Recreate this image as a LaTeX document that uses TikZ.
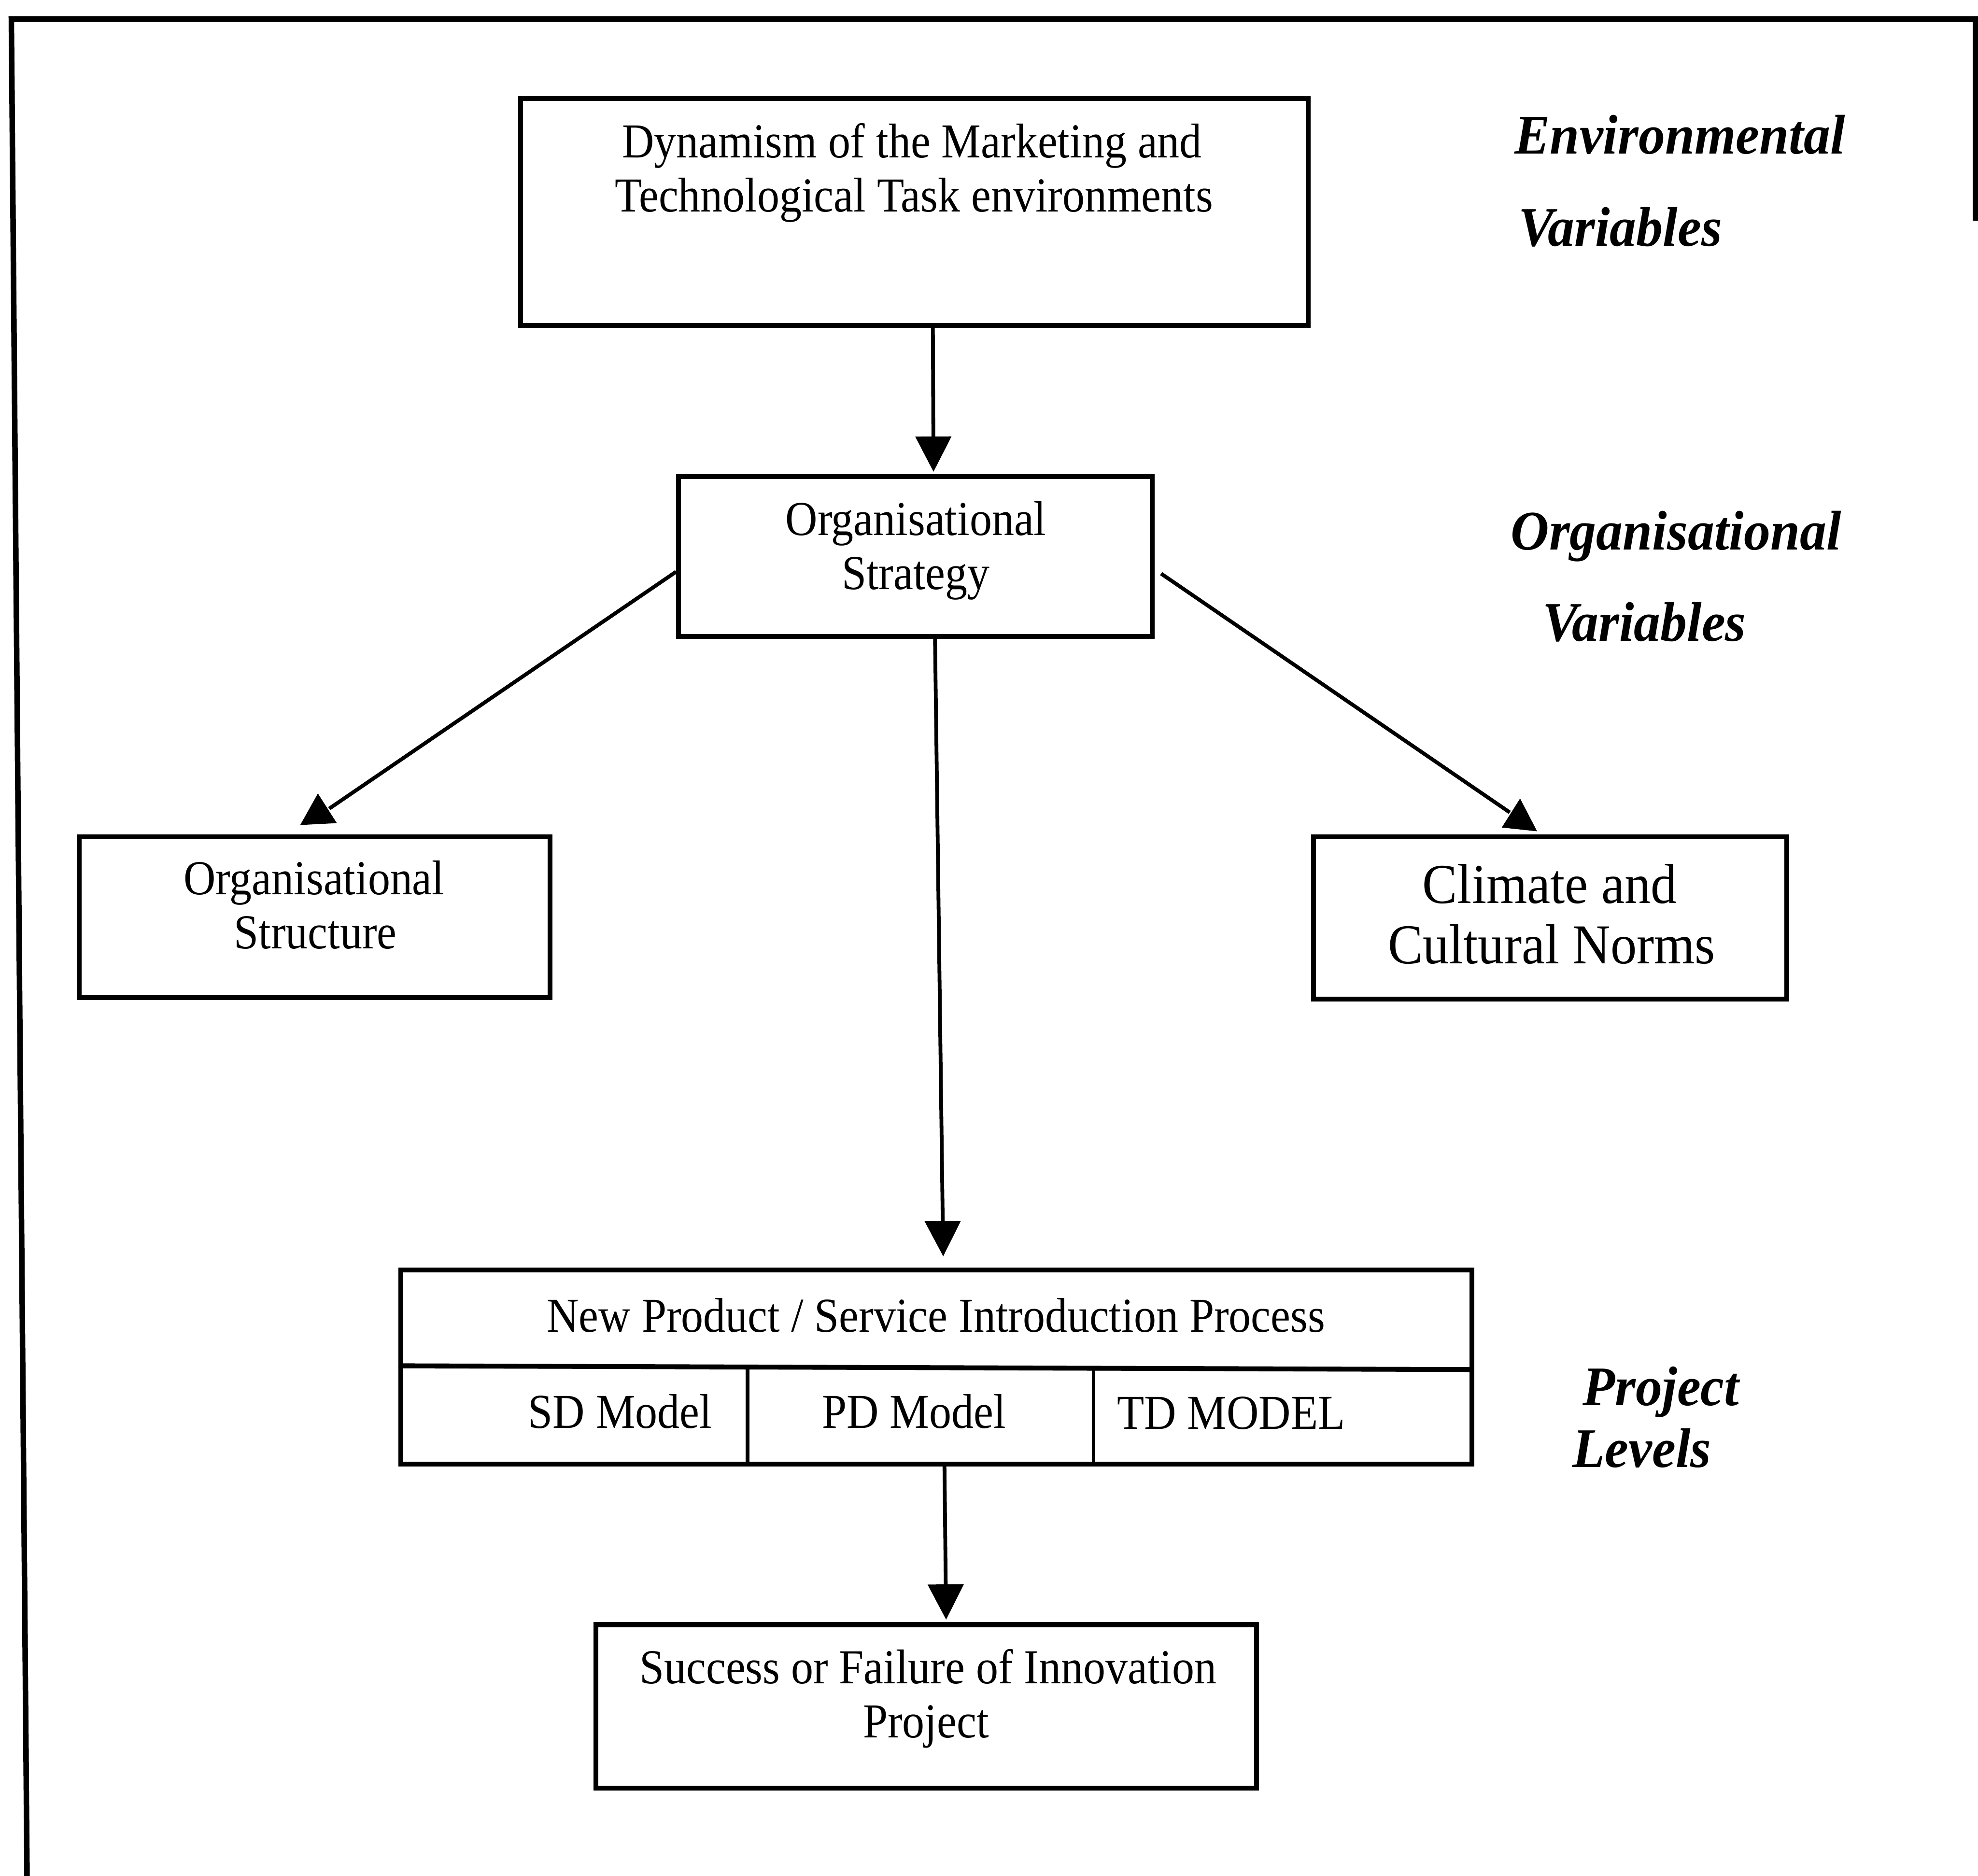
\documentclass[tikz,border=0pt]{standalone}
\usepackage{fontspec}
\setmainfont{Liberation Serif}[FakeStretch=0.91]
\newfontfamily\climfont{Liberation Serif}[FakeStretch=0.93]
\newfontfamily\labfont{Liberation Serif}[FakeStretch=0.95]
\usetikzlibrary{arrows.meta,calc}

\tikzset{
  box/.style={draw, line width=1.1pt, inner sep=0pt},
  conn/.style={line width=0.85pt},
  tip/.style={-{Triangle[length=0.28cm,width=0.28cm]}},
  txt/.style={anchor=base, inner sep=0pt, font=\fontsize{11}{12}\selectfont},
  bigtxt/.style={anchor=base, inner sep=0pt, font=\climfont\fontsize{12.7}{14}\selectfont},
  lab/.style={anchor=base west, inner sep=0pt, font=\labfont\bfseries\itshape\fontsize{12.6}{14}\selectfont},
  frame/.style={line width=1.25pt, line join=miter},
}

\begin{document}
\begin{tikzpicture}[x=0.01cm,y=-0.01cm]
\useasboundingbox (0,0) rectangle (1568,1487);

% page frame
\draw[frame] (21.5,1495) -- (9,15) -- (1566,15) -- (1566,175);

% boxes
\node[box, minimum width=6.24cm, minimum height=1.80cm] (env) at (725,168) {};
\node[box, minimum width=3.754cm, minimum height=1.265cm] (strat) at (725.7,441.25) {};
\node[box, minimum width=3.73cm, minimum height=1.275cm] (struct) at (249.5,727.25) {};
\node[box, minimum width=3.748cm, minimum height=1.285cm] (clim) at (1228.8,727.75) {};
\node[box, minimum width=8.484cm, minimum height=1.535cm] (npd) at (742.2,1083.75) {};
\node[box, minimum width=5.234cm, minimum height=1.295cm] (succ) at (734.3,1352.75) {};

% cells of the process box
\draw[line width=1.1pt] ($(npd.west)+(0,-1)$) -- ($(npd.east)+(0,2)$);
\draw[line width=0.85pt] ($(npd.south)+(-149.6,0)$) -- ($(npd.center)+(-149.6,0)$);
\draw[line width=0.85pt] ($(npd.south)+(124.7,0)$) -- ($(npd.center)+(124.7,0)$);

% box texts
\node[txt] (env1) at (723,125) {Dynamism of the Marketing and};
\node[txt] (env2) at (724.5,168) {Technological Task environments};
\node[txt] (strat1) at (726,424.5) {Organisational};
\node[txt] (strat2) at (726,467.3) {Strategy};
\node[txt] (struct1) at (249,709) {Organisational};
\node[txt] (struct2) at (250,752) {Structure};
\node[bigtxt] (clim1) at (1228.5,716) {Climate and};
\node[bigtxt] (clim2) at (1230,764) {Cultural Norms};
\node[txt] (npd1) at (742,1056) {New Product / Service Introduction Process};
\node[txt] (sd) at (491.5,1132) {SD Model};
\node[txt] (pd) at (724.5,1132) {PD Model};
\node[txt] (td) at (976,1133) {TD MODEL};
\node[txt] (succ1) at (735.7,1334.7) {Success or Failure of Innovation};
\node[txt] (succ2) at (734,1377.6) {Project};

% level labels
\node[lab] (l1) at (1200,122) {Environmental};
\node[lab] (l2) at (1203,195) {Variables};
\node[lab] (l3) at (1197,436) {Organisational};
\node[lab] (l4) at (1222,508) {Variables};
\node[lab] (l5) at (1254,1114) {Project};
\node[lab] (l6) at (1246,1163) {Levels};

% vertical connectors
\draw[conn,tip] ([xshift=0.145cm]env.south) -- ([xshift=0.143cm,yshift=0.02cm]strat.north);
\draw[conn,tip] ([xshift=0.155cm]strat.south) -- ([xshift=0.055cm,yshift=0.09cm]npd.north);
\draw[conn,tip] ([xshift=0.065cm]npd.south) -- ([xshift=0.157cm,yshift=0.02cm]succ.north);

% diagonal connectors with upright heads
\coordinate (lend) at ($(struct.north)+(11.5,-20.5)$);
\coordinate (rend) at ($(clim.north)+(-32,-17.5)$);
\draw[conn] ($(strat.west)+(0,12)$) -- (lend);
\draw[conn] ($(strat.east)+(5,13.5)$) -- (rend);
\fill ($(struct.north)+(2.5,-32.5)$) -- ($(struct.north)+(-11.5,-7.5)$) -- ($(struct.north)+(17.5,-9)$) -- cycle;
\fill ($(clim.north)+(-23.8,-28.5)$) -- ($(clim.north)+(-38.3,-5.5)$) -- ($(clim.north)+(-10.3,-2.5)$) -- cycle;
\end{tikzpicture}
\end{document}
